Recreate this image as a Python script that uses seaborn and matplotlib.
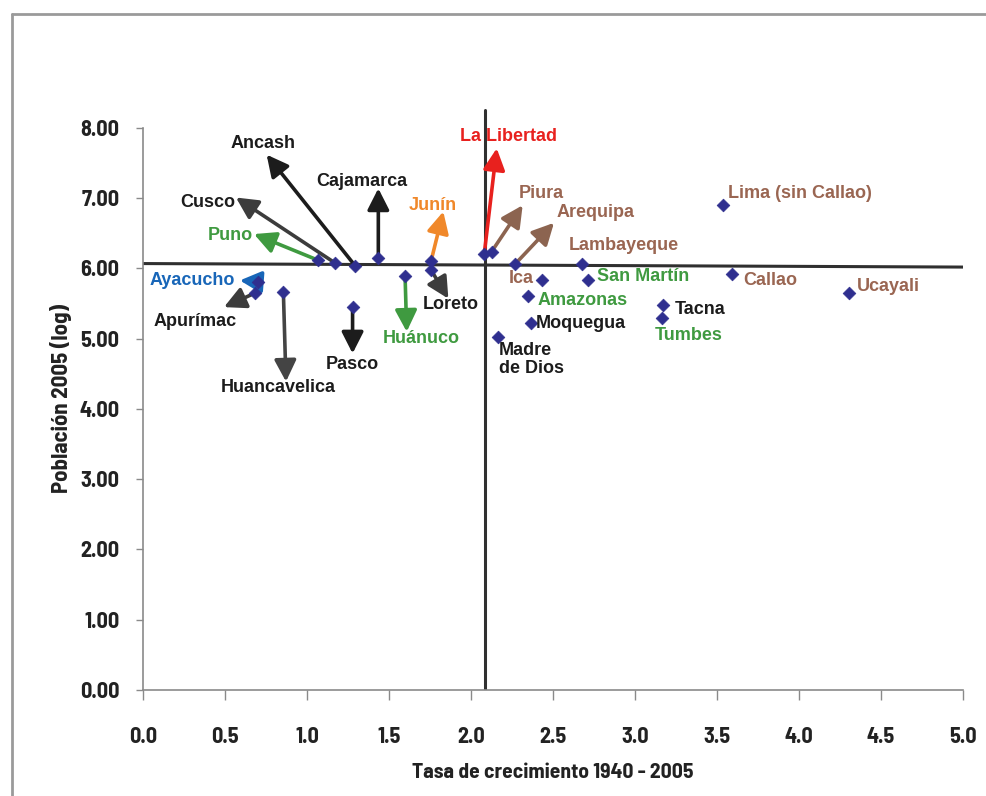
import pandas as pd
import seaborn as sns
import matplotlib.pyplot as plt
from matplotlib.lines import Line2D

# --- datos ---
regiones = ['Puno', 'Cusco', 'Ancash', 'Cajamarca', 'Junín', 'Loreto', 'Huánuco',
            'Pasco', 'Huancavelica', 'Ayacucho', 'Apurímac', 'La Libertad', 'Piura',
            'Arequipa', 'Ica', 'Lambayeque', 'San Martín', 'Amazonas', 'Moquegua',
            'Madre\nde Dios', 'Tacna', 'Tumbes', 'Lima (sin Callao)', 'Callao', 'Ucayali']
tasa = [1.065, 1.17, 1.293, 1.435, 1.756, 1.756, 1.598,
        1.278, 0.856, 0.703, 0.683, 2.081, 2.126,
        2.268, 2.435, 2.679, 2.711, 2.35, 2.364,
        2.167, 3.17, 3.163, 3.539, 3.59, 4.307]
poblacion = [6.12, 6.08, 6.04, 6.15, 6.10, 5.98, 5.90,
             5.45, 5.67, 5.81, 5.65, 6.21, 6.24,
             6.06, 5.84, 6.07, 5.84, 5.61, 5.22,
             5.02, 5.48, 5.29, 6.91, 5.92, 5.65]

# flechas: hacia donde se mueve cada region
flecha_region = ['Ancash', 'Cusco', 'Puno', 'Cajamarca', 'Junín', 'Loreto', 'Huánuco',
                 'Pasco', 'Huancavelica', 'Ayacucho', 'Apurímac', 'La Libertad',
                 'Piura', 'Arequipa']
flecha_x = [0.754, 0.567, 0.677, 1.435, 1.831, 1.862, 1.608,
            1.278, 0.872, 0.591, 0.494, 2.157, 2.315, 2.506]
flecha_y = [7.62, 7.01, 6.49, 7.14, 6.81, 5.57, 5.10,
            4.79, 4.39, 5.83, 5.45, 7.71, 6.90, 6.65]

# lineas de referencia (promedios)
media_tasa = 2.085
media_pob = [6.07, 6.02]

x_ticks = [0.0, 0.5, 1.0, 1.5, 2.0, 2.5, 3.0, 3.5, 4.0, 4.5, 5.0]
y_ticks = [0, 1, 2, 3, 4, 5, 6, 7, 8]

# --- estilo ---
NEGRO, GRIS = '#1c1c1c', '#3c3c3c'
VERDE, NARANJA, AZUL, ROJO, MARRON = '#3f9a40', '#f0882a', '#1866b8', '#e8211e', '#9a6652'
color_texto = {
    'Puno': VERDE, 'Huánuco': VERDE, 'Amazonas': VERDE, 'San Martín': VERDE, 'Tumbes': VERDE,
    'Junín': NARANJA, 'Ayacucho': AZUL, 'La Libertad': ROJO,
    'Piura': MARRON, 'Arequipa': MARRON, 'Lambayeque': MARRON, 'Lima (sin Callao)': MARRON,
    'Callao': MARRON, 'Ucayali': MARRON, 'Ica': MARRON,
}
color_flecha = {
    'Ancash': NEGRO, 'Cusco': GRIS, 'Cajamarca': NEGRO, 'Loreto': GRIS, 'Pasco': NEGRO,
    'Huancavelica': '#444444', 'Apurímac': GRIS, 'Puno': VERDE, 'Huánuco': VERDE,
    'Junín': NARANJA, 'Ayacucho': AZUL, 'La Libertad': ROJO,
    'Piura': '#8c6450', 'Arequipa': '#8c6450',
}
# posicion de etiquetas (x, y, alineacion)
etiqueta_pos = {
    'Ancash': (0.734, 7.78, 'center'), 'Cajamarca': (1.337, 7.24, 'center'),
    'Cusco': (0.392, 6.94, 'center'), 'Puno': (0.53, 6.47, 'center'),
    'Junín': (1.764, 6.90, 'center'), 'Ayacucho': (0.30, 5.83, 'center'),
    'Apurímac': (0.317, 5.24, 'center'), 'Loreto': (1.876, 5.49, 'center'),
    'Huánuco': (1.695, 5.01, 'center'), 'Pasco': (1.278, 4.63, 'center'),
    'Huancavelica': (0.825, 4.31, 'center'), 'La Libertad': (2.226, 7.88, 'center'),
    'Piura': (2.29, 7.07, 'left'), 'Arequipa': (2.52, 6.79, 'left'),
    'Lambayeque': (2.93, 6.33, 'center'), 'San Martín': (2.766, 5.88, 'left'),
    'Ica': (2.38, 5.86, 'right'), 'Amazonas': (2.405, 5.54, 'left'),
    'Moquegua': (2.396, 5.22, 'left'), 'Madre\nde Dios': (2.17, 4.70, 'left'),
    'Tacna': (3.245, 5.42, 'left'), 'Tumbes': (3.12, 5.04, 'left'),
    'Lima (sin Callao)': (3.57, 7.07, 'left'), 'Callao': (3.657, 5.83, 'left'),
    'Ucayali': (4.35, 5.74, 'left'),
}

sns.set_style('white')
plt.rcParams['font.family'] = ['Liberation Sans', 'DejaVu Sans']
NARROW = ['Barlow Semi Condensed', 'Liberation Sans', 'DejaVu Sans']

df = pd.DataFrame({'region': regiones, 'tasa': tasa, 'poblacion': poblacion})
pos = df.set_index('region')

fig = plt.figure(figsize=(9.86, 7.96), dpi=100)
ax = fig.add_axes([0.1450, 0.1332, 0.8317, 0.7325])
ax.set_xlim(0, 5)
ax.set_ylim(0, 8.3)

ax.plot([0, 5], media_pob, color='#303030', lw=2.2, zorder=2)
ax.plot([media_tasa, media_tasa], [0.02, 8.26], color='#303030', lw=2.2, zorder=2)

# flechas
for reg, fx, fy in zip(flecha_region, flecha_x, flecha_y):
    x0, y0 = pos.loc[reg, 'tasa'], pos.loc[reg, 'poblacion']
    ax.annotate('', xy=(fx, fy), xytext=(x0, y0),
                arrowprops=dict(arrowstyle='-|>,head_length=0.65,head_width=0.33',
                                mutation_scale=20, lw=2.6, color=color_flecha[reg],
                                shrinkA=0, shrinkB=0),
                zorder=3)

sns.scatterplot(data=df, x='tasa', y='poblacion', marker='D', s=42,
                color='#2f2f8f', edgecolor='#2f2f8f', linewidth=0.5, ax=ax, zorder=4)

for reg in regiones:
    lx, ly, ha = etiqueta_pos[reg]
    ax.text(lx, ly, reg, ha=ha, va='center', fontsize=13, fontweight='bold',
            color=color_texto.get(reg, NEGRO), zorder=5, linespacing=1.1)

# ejes
sns.despine(ax=ax)
ax.spines['left'].set_bounds(0, 8)
for s in ['left', 'bottom']:
    ax.spines[s].set_color('#8a8a8a')
    ax.spines[s].set_linewidth(1.2)
ax.set_xticks(x_ticks)
ax.set_xticklabels([f'{v:.1f}' for v in x_ticks])
ax.set_yticks(y_ticks)
ax.set_yticklabels([f'{v:.2f}' for v in y_ticks])
ax.tick_params(axis='x', direction='out', length=7, width=1, color='#8a8a8a', pad=20, bottom=True)
ax.tick_params(axis='y', direction='out', length=5, width=1, color='#8a8a8a', pad=12, left=True)
for t in ax.get_xticklabels() + ax.get_yticklabels():
    t.set_fontfamily(NARROW)
    t.set_fontweight('bold')
    t.set_fontsize(16)
    t.set_color('#222222')
ax.set_xlabel('Tasa de crecimiento 1940 - 2005', family=NARROW, fontweight='bold',
              fontsize=15.5, color='#222222', labelpad=11)
ax.set_ylabel('Población 2005 (log)', family=NARROW, fontweight='bold',
              fontsize=16.5, color='#222222', labelpad=5)

# marco exterior
fig.add_artist(Line2D([12 / 986, 12 / 986], [0, 1 - 14 / 796], color='#9a9a9a', lw=2))
fig.add_artist(Line2D([12 / 986, 1], [1 - 14 / 796, 1 - 14 / 796], color='#9a9a9a', lw=2))

fig.savefig('out.png', dpi=100)
